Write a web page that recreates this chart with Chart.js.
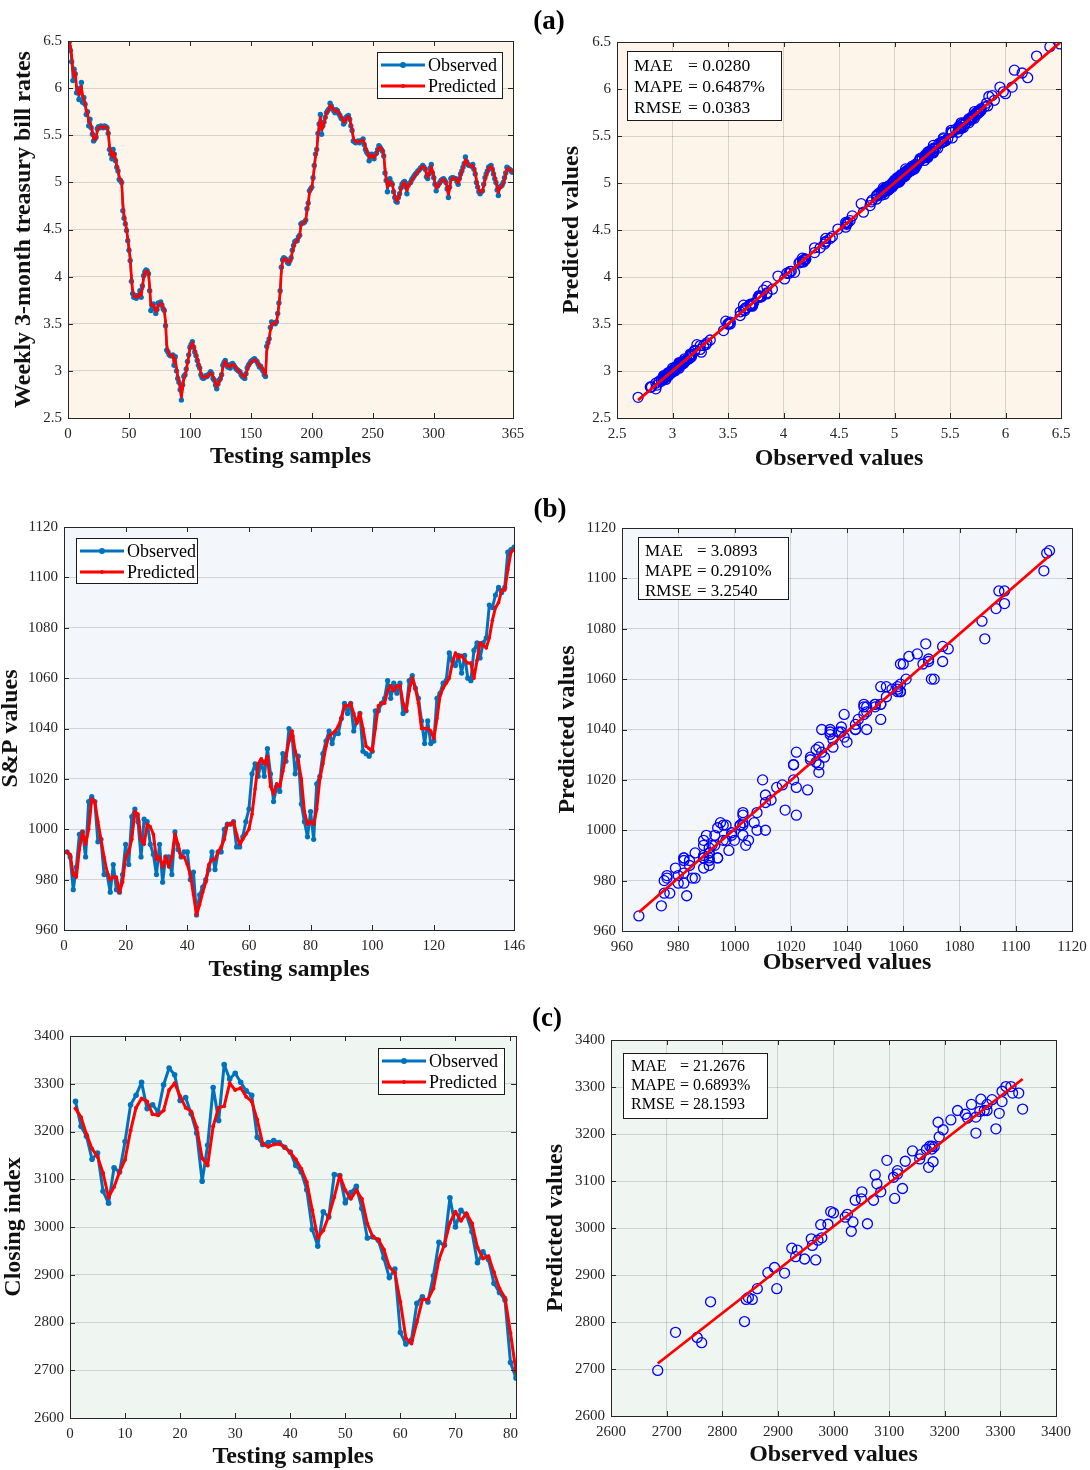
<!DOCTYPE html>
<html>
<head>
<meta charset="utf-8">
<script src="https://cdn.jsdelivr.net/npm/chart.js@4.4.0/dist/chart.umd.min.js"></script>
<style>
  body { margin: 0; background: #fff; width: 1090px; height: 1470px; position: relative; overflow: hidden; }
  canvas { position: absolute; }
  .tag { position: absolute; font: bold 27px "Liberation Serif", "Times New Roman", serif; color: #000; transform: translate(-50%, -50%); }
</style>
</head>
<body>
<canvas id="a1"></canvas><canvas id="a2"></canvas>
<canvas id="b1"></canvas><canvas id="b2"></canvas>
<canvas id="c1"></canvas><canvas id="c2"></canvas>
<div class="tag" style="left:549px;top:20px">(a)</div>
<div class="tag" style="left:550px;top:508px">(b)</div>
<div class="tag" style="left:547px;top:1017px">(c)</div>
<script>
// ---- data ----
// (a) weekly 3-month treasury bill rates, 365 testing samples
const obsA = [
  6.49,6.40,6.28,6.08,6.20,6.15,5.95,5.98,5.88,6.00,
  6.06,5.85,5.90,5.83,5.72,5.75,5.60,5.67,5.58,5.51,
  5.44,5.46,5.48,5.57,5.59,5.58,5.60,5.59,5.58,5.60,
  5.59,5.58,5.52,5.35,5.30,5.25,5.35,5.30,5.23,5.16,
  5.12,5.03,5.02,5.00,4.70,4.62,4.56,4.49,4.38,4.28,
  4.17,3.95,3.82,3.78,3.80,3.77,3.80,3.79,3.85,3.78,
  3.90,4.01,4.05,4.07,4.06,4.03,3.85,3.64,3.70,3.71,
  3.66,3.61,3.65,3.72,3.70,3.73,3.70,3.66,3.64,3.48,
  3.22,3.20,3.17,3.16,3.16,3.17,3.06,3.15,3.00,2.92,
  2.88,2.80,2.69,2.85,2.94,2.96,3.02,3.10,3.17,3.25,
  3.28,3.31,3.25,3.20,3.16,3.11,3.06,3.03,2.96,2.93,
  2.92,2.93,2.95,2.94,2.96,2.97,2.99,2.97,2.92,2.90,
  2.85,2.81,2.86,2.90,2.92,2.96,3.06,3.09,3.11,3.07,
  3.04,3.06,3.03,3.07,3.08,3.06,3.04,3.02,3.01,3.00,
  2.99,2.96,2.94,2.93,2.92,2.97,3.03,3.06,3.08,3.10,
  3.11,3.12,3.13,3.11,3.10,3.07,3.04,3.05,3.02,3.00,
  2.96,2.94,3.26,3.30,3.34,3.46,3.52,3.50,3.51,3.50,
  3.52,3.61,3.72,3.85,4.10,4.18,4.20,4.19,4.18,4.15,
  4.14,4.17,4.20,4.28,4.33,4.37,4.38,4.38,4.42,4.44,
  4.56,4.57,4.57,4.58,4.60,4.72,4.78,4.91,4.93,4.95,
  5.05,5.18,5.30,5.35,5.52,5.62,5.72,5.51,5.60,5.64,
  5.69,5.74,5.76,5.78,5.84,5.81,5.78,5.76,5.74,5.77,
  5.76,5.73,5.71,5.68,5.67,5.62,5.64,5.69,5.70,5.71,
  5.67,5.60,5.55,5.44,5.43,5.42,5.43,5.44,5.42,5.44,
  5.44,5.46,5.40,5.35,5.32,5.30,5.23,5.28,5.30,5.27,
  5.25,5.30,5.31,5.35,5.39,5.37,5.35,5.33,5.28,5.10,
  5.02,4.90,4.98,5.04,5.00,4.98,4.90,4.84,4.80,4.79,
  4.84,4.88,4.94,4.98,5.00,5.01,4.95,4.88,4.97,4.99,
  5.00,5.03,5.05,5.07,5.09,5.10,5.12,5.13,5.15,5.16,
  5.18,5.16,5.14,5.06,5.04,5.09,5.15,5.19,5.10,5.05,
  4.98,4.91,4.96,4.98,5.00,5.02,5.03,5.04,5.02,5.00,
  4.93,4.84,4.95,5.04,5.05,5.05,5.04,5.04,5.01,4.98,
  5.04,5.09,5.12,5.16,5.20,5.27,5.22,5.19,5.18,5.18,
  5.17,5.19,5.14,5.09,5.00,4.95,4.90,4.88,4.90,4.91,
  4.98,5.05,5.09,5.12,5.16,5.17,5.18,5.14,5.09,5.04,
  5.00,4.92,4.86,4.95,4.96,4.97,5.00,5.05,5.10,5.16,
  5.15,5.14,5.13,5.11,5.11
];
const predA = [
  6.48,6.45,6.35,6.20,6.12,6.17,6.02,5.97,5.93,5.95,
  6.02,5.92,5.88,5.85,5.76,5.74,5.64,5.64,5.60,5.54,
  5.47,5.45,5.47,5.54,5.58,5.58,5.59,5.59,5.58,5.59,
  5.59,5.58,5.54,5.40,5.33,5.27,5.32,5.31,5.25,5.18,
  5.14,5.06,5.03,5.01,4.78,4.65,4.58,4.51,4.41,4.31,
  4.20,4.01,3.86,3.80,3.79,3.78,3.79,3.79,3.83,3.80,
  3.87,3.98,4.04,4.06,4.06,4.04,3.90,3.70,3.69,3.70,
  3.67,3.63,3.64,3.70,3.70,3.72,3.71,3.67,3.65,3.53,
  3.28,3.21,3.18,3.16,3.16,3.17,3.09,3.13,3.03,2.95,
  2.89,2.83,2.72,2.81,2.91,2.95,3.00,3.08,3.15,3.23,
  3.27,3.30,3.27,3.22,3.18,3.13,3.08,3.04,2.98,2.94,
  2.93,2.93,2.94,2.94,2.95,2.97,2.98,2.97,2.94,2.91,
  2.87,2.83,2.85,2.89,2.91,2.95,3.03,3.08,3.10,3.08,
  3.05,3.05,3.04,3.06,3.07,3.06,3.05,3.03,3.01,3.00,
  2.99,2.97,2.95,2.94,2.93,2.96,3.01,3.05,3.07,3.09,
  3.10,3.11,3.12,3.11,3.10,3.08,3.05,3.05,3.03,3.01,
  2.98,2.95,3.20,3.28,3.33,3.43,3.50,3.50,3.51,3.50,
  3.52,3.59,3.69,3.82,4.05,4.16,4.19,4.19,4.18,4.16,
  4.15,4.16,4.19,4.26,4.31,4.35,4.37,4.38,4.41,4.43,
  4.53,4.56,4.57,4.58,4.60,4.69,4.76,4.88,4.92,4.95,
  5.03,5.15,5.27,5.33,5.48,5.59,5.69,5.56,5.58,5.63,
  5.68,5.73,5.75,5.77,5.82,5.81,5.79,5.77,5.75,5.76,
  5.76,5.74,5.72,5.69,5.68,5.64,5.64,5.67,5.69,5.70,
  5.68,5.62,5.57,5.48,5.44,5.43,5.43,5.44,5.43,5.44,
  5.44,5.45,5.42,5.37,5.34,5.31,5.26,5.27,5.29,5.28,
  5.26,5.28,5.30,5.34,5.37,5.37,5.36,5.34,5.30,5.15,
  5.05,4.95,4.97,5.01,5.00,4.98,4.92,4.86,4.82,4.80,
  4.83,4.87,4.92,4.96,4.99,5.00,4.97,4.91,4.95,4.98,
  4.99,5.02,5.04,5.06,5.08,5.10,5.11,5.13,5.14,5.16,
  5.17,5.16,5.15,5.09,5.05,5.08,5.13,5.17,5.12,5.07,
  5.00,4.94,4.95,4.97,4.99,5.01,5.03,5.03,5.02,5.00,
  4.95,4.87,4.93,5.01,5.04,5.05,5.04,5.04,5.02,4.99,
  5.02,5.07,5.11,5.15,5.19,5.24,5.23,5.20,5.18,5.18,
  5.17,5.18,5.15,5.11,5.03,4.97,4.92,4.89,4.90,4.91,
  4.96,5.02,5.07,5.11,5.15,5.16,5.17,5.15,5.11,5.06,
  5.02,4.95,4.89,4.93,4.95,4.96,4.99,5.03,5.08,5.14,
  5.15,5.14,5.13,5.12,5.11
];
// (b) S&P values, 146 testing samples
const obsB = [
  991,989,976,985,998,999,989,1011,1013,1011,
  995,996,982,982,975,986,976,975,982,994,
  986,1005,1008,1003,989,1004,1003,994,990,982,
  994,979,989,989,982,999,992,989,991,991,
  980,983,966,974,977,980,984,991,984,991,
  991,1000,1002,1002,1003,993,993,997,1003,1008,
  1022,1026,1021,1027,1021,1032,1022,1011,1017,1015,
  1030,1027,1040,1037,1022,1029,1010,1003,997,1007,
  996,1018,1021,1030,1035,1039,1034,1038,1038,1044,
  1050,1046,1050,1039,1043,1046,1031,1030,1029,1031,
  1047,1047,1050,1052,1059,1052,1058,1054,1058,1046,
  1047,1059,1061,1056,1052,1043,1034,1043,1034,1035,
  1052,1054,1058,1059,1070,1067,1065,1069,1062,1069,
  1060,1059,1071,1074,1068,1074,1076,1089,1088,1093,
  1096,1094,1096,1110,1111,1112
];
const predB = [
  991,990,982,981,992,999,994,1000,1012,1011,
  1003,996,989,983,980,981,981,975,979,989,
  991,996,1007,1006,996,994,1002,1001,998,988,
  989,985,989,985,989,998,994,989,989,986,
  982,974,966,970,975,979,986,988,988,991,
  993,996,1002,1002,1003,998,994,996,998,1000,
  1006,1016,1026,1028,1026,1029,1017,1014,1018,1017,
  1023,1029,1035,1039,1031,1027,1020,1007,1002,1003,
  1002,1008,1020,1026,1033,1037,1038,1039,1041,1044,
  1049,1049,1050,1046,1042,1046,1040,1033,1032,1031,
  1040,1049,1050,1050,1055,1057,1055,1057,1057,1050,
  1047,1055,1060,1056,1050,1040,1040,1040,1039,1036,
  1044,1053,1056,1058,1060,1066,1070,1068,1069,1067,
  1066,1066,1060,1067,1074,1073,1072,1076,1083,1088,
  1090,1095,1095,1103,1110,1111
];
// (c) closing index, 81 testing samples
const obsC = [
  3263,3211,3190,3142,3155,3075,3050,3124,3115,3179,
  3256,3276,3303,3248,3256,3241,3298,3333,3319,3265,
  3271,3237,3197,3096,3171,3292,3223,3340,3310,3322,
  3303,3285,3276,3188,3173,3177,3181,3177,3167,3157,
  3129,3115,3078,2995,2960,3032,3021,3110,3108,3051,
  3072,3085,3039,2977,2979,2972,2935,2894,2912,2779,
  2755,2763,2840,2854,2843,2898,2968,2962,3061,3000,
  3035,3025,2990,2925,2948,2932,2882,2863,2847,2716,
  2684
];
const predC = [
  3248,3230,3194,3164,3147,3113,3062,3084,3115,3141,
  3202,3250,3269,3263,3236,3234,3244,3287,3301,3274,
  3250,3242,3209,3144,3129,3211,3250,3253,3301,3287,
  3291,3273,3263,3225,3174,3168,3173,3174,3167,3156,
  3142,3122,3094,3035,2977,2993,3023,3063,3108,3077,
  3059,3077,3059,3007,2979,2974,2953,2916,2904,2843,
  2767,2756,2801,2848,2848,2871,2932,2963,3009,3032,
  3013,3029,3008,2957,2934,2939,2905,2871,2852,2778,
  2697
];
// error metrics printed in the scatter panels
const statsA = ['0.0280', '0.6487%', '0.0383'];
const statsB = ['3.0893', '0.2910%', '3.2540'];
const statsC = ['21.2676', '0.6893%', '28.1593'];
// tick labels
const ticksA = [2.5, 3, 3.5, 4, 4.5, 5, 5.5, 6, 6.5];
const ticksAx = [0, 50, 100, 150, 200, 250, 300, 365];
const ticksB = [960, 980, 1000, 1020, 1040, 1060, 1080, 1100, 1120];
const ticksBx = [0, 20, 40, 60, 80, 100, 120, 146];
const ticksC = [2600, 2700, 2800, 2900, 3000, 3100, 3200, 3300, 3400];
const ticksCx = [0, 10, 20, 30, 40, 50, 60, 70, 80];

// ---- styling ----
const SERIF = '"Liberation Serif", "Times New Roman", serif';
const TXT = '#262626';
const GRID = 'rgba(0,0,0,0.14)';
const BLUE = '#0072BD';
const RED = '#FF0000';
const TITLE_SIZE = 24;

// MATLAB-like axes box: background, inward ticks, frame, legend / metrics box
const boxPlugin = {
  id: 'mbox',
  beforeDraw(chart, args, o) {
    const a = chart.chartArea, c = chart.ctx;
    c.save();
    c.fillStyle = o.bg;
    c.fillRect(a.left, a.top, a.right - a.left, a.bottom - a.top);
    c.restore();
  },
  afterDraw(chart, args, o) {
    const a = chart.chartArea, c = chart.ctx;
    const seg = (x1, y1, x2, y2) => { c.beginPath(); c.moveTo(x1, y1); c.lineTo(x2, y2); c.stroke(); };
    c.save();
    c.strokeStyle = TXT;
    c.lineWidth = 1;
    const t = 5;
    const sx = chart.scales.x, sy = chart.scales.y;
    sx.ticks.forEach(tk => {
      const p = Math.round(sx.getPixelForValue(tk.value)) + 0.5;
      seg(p, a.bottom, p, a.bottom - t);
      seg(p, a.top, p, a.top + t);
    });
    sy.ticks.forEach(tk => {
      const p = Math.round(sy.getPixelForValue(tk.value)) + 0.5;
      seg(a.left, p, a.left + t, p);
      seg(a.right, p, a.right - t, p);
    });
    c.strokeRect(Math.round(a.left) + 0.5, Math.round(a.top) + 0.5,
                 Math.round(a.right - a.left), Math.round(a.bottom - a.top));

    if (o.legend) {
      const L = o.legend;
      const bx = L.side === 'right' ? a.right - L.dx - L.w : a.left + L.dx;
      const by = a.top + L.dy;
      c.fillStyle = '#fff';
      c.fillRect(bx, by, L.w, L.h);
      c.strokeStyle = '#1a1a1a';
      c.strokeRect(bx + 0.5, by + 0.5, L.w, L.h);
      c.font = '18px ' + SERIF;
      c.textBaseline = 'middle';
      L.items.forEach((it, k) => {
        const yy = by + 13 + k * 21;
        c.strokeStyle = it.color;
        c.lineWidth = 3;
        seg(bx + 4, yy, bx + 48, yy);
        c.fillStyle = it.color;
        c.beginPath(); c.arc(bx + 26, yy, it.r, 0, Math.PI * 2); c.fill();
        c.fillStyle = '#000';
        c.fillText(it.label, bx + 51, yy + 1);
      });
    }
    if (o.stats) {
      const S = o.stats;
      const bx = a.left + S.dx, by = a.top + S.dy;
      c.fillStyle = '#fff';
      c.fillRect(bx, by, S.w, S.h);
      c.strokeStyle = '#1a1a1a';
      c.lineWidth = 1;
      c.strokeRect(bx + 0.5, by + 0.5, S.w, S.h);
      c.font = S.size + 'px ' + SERIF;
      c.textBaseline = 'middle';
      c.fillStyle = '#000';
      ['MAE', 'MAPE', 'RMSE'].forEach((nm, k) => {
        const yy = by + S.row0 + k * S.gap;
        c.fillText(nm, bx + S.tx, yy);
        c.fillText('= ' + S.vals[k], bx + S.eq, yy);
      });
    }
    c.restore();
  }
};

function frame(p) {
  const half = TITLE_SIZE / 2;
  const left = Math.round(p.yTitleX - half);
  const top = p.T - 14;
  const right = p.R + 24;
  const bottom = Math.round(p.xTitleY + half);
  return { left, top, width: right - left, height: bottom - top,
           yw: p.L - left, xh: bottom - p.B };
}

function axis(min, max, ticks, title, gridOn, fit, pad) {
  return {
    type: 'linear', min, max,
    afterBuildTicks: s => { s.ticks = ticks.map(v => ({ value: v })); },
    afterFit: s => { if (s.isHorizontal()) s.height = fit; else s.width = fit; },
    grid: { display: gridOn, color: GRID, lineWidth: 1, drawTicks: false },
    border: { display: false },
    ticks: { color: TXT, font: { family: SERIF, size: 15 }, padding: pad,
             autoSkip: false, maxRotation: 0, callback: v => String(v) },
    title: { display: true, text: title, color: '#111',
             font: { family: SERIF, size: TITLE_SIZE, weight: 'bold', lineHeight: 1 }, padding: 0 }
  };
}

function place(id, f) {
  const cv = document.getElementById(id);
  cv.style.left = f.left + 'px';
  cv.style.top = f.top + 'px';
  cv.width = f.width;
  cv.height = f.height;
  return cv;
}

const baseOpts = {
  responsive: false, animation: false, devicePixelRatio: 1,
  layout: { padding: { left: 0, top: 14, right: 24, bottom: 0 } },
  plugins: { legend: { display: false }, tooltip: { enabled: false } }
};

function seriesChart(id, fr, obs, pred, xMax, xt, yMin, yMax, yt, yTitle, bg, legend, sty) {
  const f = frame(fr);
  const cv = place(id, f);
  new Chart(cv, {
    type: 'line',
    data: {
      datasets: [
        { label: 'Predicted', data: pred.map((v, i) => ({ x: i + 1, y: v })), order: 0,
          borderColor: RED, backgroundColor: RED, borderWidth: sty.pw, pointRadius: sty.pr,
          pointBorderWidth: 0, tension: 0, borderJoinStyle: 'round', borderCapStyle: 'round' },
        { label: 'Observed', data: obs.map((v, i) => ({ x: i + 1, y: v })), order: 1,
          borderColor: BLUE, backgroundColor: BLUE, borderWidth: sty.ow, pointRadius: sty.or,
          pointBorderWidth: 0, tension: 0, borderJoinStyle: 'round', borderCapStyle: 'round' }
      ]
    },
    options: Object.assign({}, baseOpts, {
      scales: {
        x: axis(0, xMax, xt, 'Testing samples', false, f.xh, 7),
        y: axis(yMin, yMax, yt, yTitle, true, f.yw, 6)
      },
      plugins: Object.assign({}, baseOpts.plugins, {
        mbox: { bg, legend: Object.assign({ items: [
          { label: 'Observed', color: BLUE, r: 3 },
          { label: 'Predicted', color: RED, r: 2 }
        ] }, legend) }
      })
    }),
    plugins: [boxPlugin]
  });
}

function scatterChart(id, fr, obs, pred, min, max, t, bg, stats) {
  const f = frame(fr);
  const cv = place(id, f);
  // least-squares fit of predicted on observed
  const n = obs.length;
  const mx = obs.reduce((s, v) => s + v, 0) / n;
  const my = pred.reduce((s, v) => s + v, 0) / n;
  let sxy = 0, sxx = 0;
  obs.forEach((v, i) => { sxy += (v - mx) * (pred[i] - my); sxx += (v - mx) * (v - mx); });
  const b = sxy / sxx, a0 = my - b * mx;
  const xlo = Math.min(...obs), xhi = Math.max(...obs);
  new Chart(cv, {
    type: 'scatter',
    data: {
      datasets: [
        { type: 'line', data: [{ x: xlo, y: a0 + b * xlo }, { x: xhi, y: a0 + b * xhi }], order: 0,
          borderColor: RED, borderWidth: 2.8, pointRadius: 0 },
        { data: obs.map((v, i) => ({ x: v, y: pred[i] })), order: 1,
          pointStyle: 'circle', pointRadius: 5, borderColor: '#0000FF',
          backgroundColor: 'rgba(0,0,0,0)', pointBorderWidth: 1.3, borderWidth: 1.3 }
      ]
    },
    options: Object.assign({}, baseOpts, {
      scales: {
        x: axis(min, max, t, 'Observed values', true, f.xh, 7),
        y: axis(min, max, t, 'Predicted values', true, f.yw, 6)
      },
      plugins: Object.assign({}, baseOpts.plugins, { mbox: { bg, stats } })
    }),
    plugins: [boxPlugin]
  });
}

const BG_A = '#FDF5E9', BG_B = '#F3F7FC', BG_C = '#EFF6F1';

seriesChart('a1', { L: 68, T: 40, R: 513, B: 418, yTitleX: 24, xTitleY: 457 },
  obsA, predA, 365, ticksAx, 2.5, 6.5, ticksA, 'Weekly 3-month treasury bill rates', BG_A,
  { side: 'right', dx: 11, dy: 11, w: 125, h: 46 }, { ow: 2.2, or: 2.7, pw: 2.6, pr: 1.2 });

scatterChart('a2', { L: 617, T: 41, R: 1061, B: 418, yTitleX: 572, xTitleY: 459 },
  obsA, predA, 2.5, 6.5, ticksA, BG_A,
  { dx: 10, dy: 9, w: 154, h: 69, tx: 7, eq: 61, row0: 15, gap: 21, size: 17.5, vals: statsA });

seriesChart('b1', { L: 64, T: 526, R: 514, B: 930, yTitleX: 11, xTitleY: 970 },
  obsB, predB, 146, ticksBx, 960, 1120, ticksB, 'S&P values', BG_B,
  { side: 'left', dx: 12, dy: 11, w: 121, h: 45 }, { ow: 3, or: 2.6, pw: 3, pr: 1.8 });

scatterChart('b2', { L: 622, T: 527, R: 1072, B: 931, yTitleX: 568, xTitleY: 963 },
  obsB, predB, 960, 1120, ticksB, BG_B,
  { dx: 16, dy: 9, w: 150, h: 62, tx: 7, eq: 59, row0: 15, gap: 20, size: 17, vals: statsB });

seriesChart('c1', { L: 70, T: 1035, R: 516, B: 1418, yTitleX: 14, xTitleY: 1457 },
  obsC, predC, 81, ticksCx, 2600, 3400, ticksC, 'Closing index', BG_C,
  { side: 'right', dx: 12, dy: 12, w: 126, h: 46 }, { ow: 3, or: 2.8, pw: 3, pr: 2 });

scatterChart('c2', { L: 611, T: 1039, R: 1056, B: 1416, yTitleX: 556, xTitleY: 1455 },
  obsC, predC, 2600, 3400, ticksC, BG_C,
  { dx: 12, dy: 13, w: 144, h: 65, tx: 8, eq: 57, row0: 14, gap: 19, size: 16, vals: statsC });
</script>
</body>
</html>
